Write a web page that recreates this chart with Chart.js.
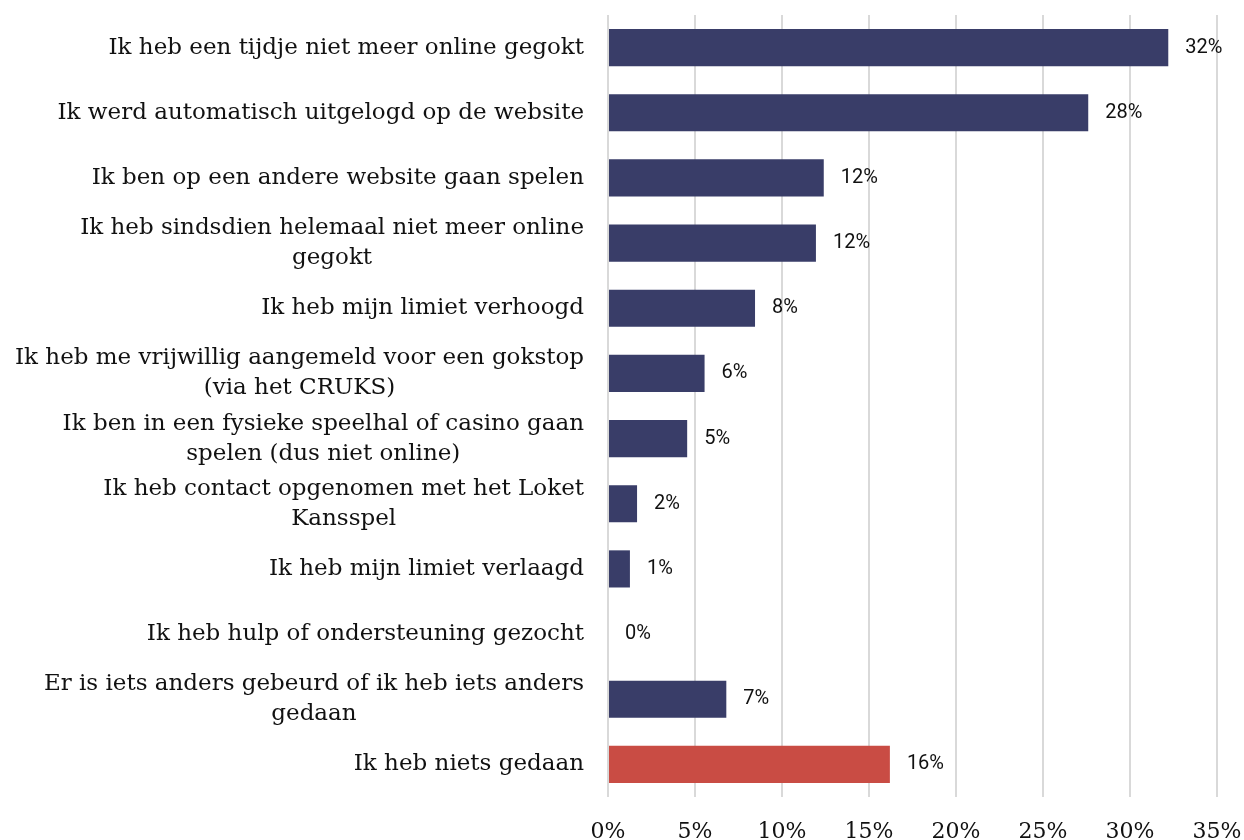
<!DOCTYPE html>
<html>
<head>
<meta charset="utf-8">
<script src="https://cdn.jsdelivr.net/npm/chart.js@4"></script>
<style>
  html, body { margin: 0; padding: 0; background: #fff; }
  #wrap { width: 1244px; height: 840px; }
</style>
</head>
<body>
<div id="wrap"><canvas id="myChart"></canvas></div>
<script>
const categories = [
  ['Ik heb een tijdje niet meer online gegokt'],
  ['Ik werd automatisch uitgelogd op de website'],
  ['Ik ben op een andere website gaan spelen'],
  ['Ik heb sindsdien helemaal niet meer online', 'gegokt'],
  ['Ik heb mijn limiet verhoogd'],
  ['Ik heb me vrijwillig aangemeld voor een gokstop', '(via het CRUKS)'],
  ['Ik ben in een fysieke speelhal of casino gaan', 'spelen (dus niet online)'],
  ['Ik heb contact opgenomen met het Loket', 'Kansspel'],
  ['Ik heb mijn limiet verlaagd'],
  ['Ik heb hulp of ondersteuning gezocht'],
  ['Er is iets anders gebeurd of ik heb iets anders', 'gedaan'],
  ['Ik heb niets gedaan']
];
const percentages = [32.2, 27.6, 12.4, 11.95, 8.45, 5.55, 4.55, 1.67, 1.26, 0, 6.8, 16.2];
const xTicks = [0, 5, 10, 15, 20, 25, 30, 35];

const navy = '#393d68';
const red = '#c94c44';

const categoryLabels = {
  id: 'categoryLabels',
  afterDraw(chart) {
    const ctx = chart.ctx;
    const y = chart.scales.y;
    const right = chart.chartArea.left - 24;
    const lh = 30;
    ctx.save();
    ctx.font = '23px "DejaVu Serif"';
    ctx.fillStyle = '#111';
    ctx.textAlign = 'center';
    ctx.textBaseline = 'middle';
    categories.forEach((lines, i) => {
      const cy = y.getPixelForValue(i);
      const w = Math.max(...lines.map(l => ctx.measureText(l).width));
      const cx = right - w / 2;
      lines.forEach((l, j) => {
        ctx.fillText(l, cx, cy + (j - (lines.length - 1) / 2) * lh);
      });
    });
    ctx.restore();
  }
};

const valueLabels = {
  id: 'valueLabels',
  afterDatasetsDraw(chart) {
    const ctx = chart.ctx;
    const meta = chart.getDatasetMeta(0);
    ctx.save();
    ctx.font = '20px Roboto';
    ctx.fillStyle = '#111';
    ctx.textAlign = 'left';
    ctx.textBaseline = 'middle';
    meta.data.forEach((bar, i) => {
      ctx.fillText(Math.round(percentages[i]) + '%', bar.x + 17, bar.y);
    });
    ctx.restore();
  }
};

new Chart(document.getElementById('myChart'), {
  type: 'bar',
  data: {
    labels: categories.map(c => c.join(' ')),
    datasets: [{
      data: percentages,
      backgroundColor: percentages.map((v, i) => i === percentages.length - 1 ? red : navy),
      categoryPercentage: 1,
      barPercentage: 0.57
    }]
  },
  options: {
    indexAxis: 'y',
    responsive: true,
    maintainAspectRatio: false,
    animation: false,
    layout: { padding: { left: 608, right: 27, top: 15, bottom: 0 } },
    plugins: { legend: { display: false }, tooltip: { enabled: false } },
    scales: {
      y: { display: false },
      x: {
        min: 0,
        max: 35,
        afterBuildTicks: s => { s.ticks = xTicks.map(v => ({ value: v })); },
        afterFit: s => { s.height = 43; s.paddingLeft = 0; s.paddingRight = 0; },
        grid: { color: '#d9d9d9', lineWidth: 2, drawTicks: false },
        border: { display: false },
        ticks: {
          callback: v => v + '%',
          font: { family: 'DejaVu Serif', size: 22 },
          color: '#111',
          padding: 22,
          maxRotation: 0
        }
      }
    }
  },
  plugins: [categoryLabels, valueLabels]
});
</script>
</body>
</html>
